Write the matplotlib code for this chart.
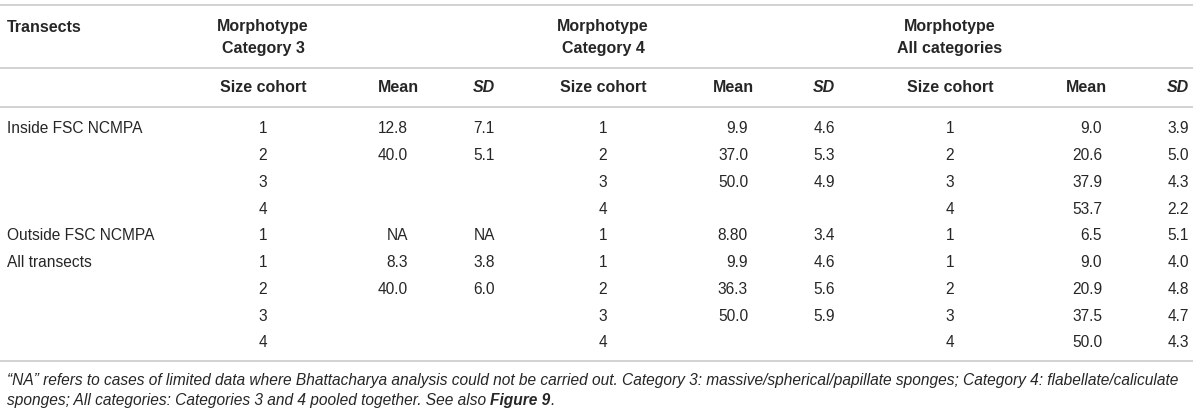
import matplotlib
matplotlib.use("Agg")
import matplotlib.pyplot as plt

# table contents
transects = ["Inside FSC NCMPA", "", "", "", "Outside FSC NCMPA", "All transects", "", "", ""]
cohort = ["1", "2", "3", "4", "1", "1", "2", "3", "4"]
cat3_mean = ["12.8", "40.0", "", "", "NA", "8.3", "40.0", "", ""]
cat3_sd = ["7.1", "5.1", "", "", "NA", "3.8", "6.0", "", ""]
cat4_mean = ["9.9", "37.0", "50.0", "", "8.80", "9.9", "36.3", "50.0", ""]
cat4_sd = ["4.6", "5.3", "4.9", "", "3.4", "4.6", "5.6", "5.9", ""]
all_mean = ["9.0", "20.6", "37.9", "53.7", "6.5", "9.0", "20.9", "37.5", "50.0"]
all_sd = ["3.9", "5.0", "4.3", "2.2", "5.1", "4.0", "4.8", "4.7", "4.3"]

groups = ["Morphotype\nCategory 3", "Morphotype\nCategory 4", "Morphotype\nAll categories"]
subheads = ["Size cohort", "Mean", "SD"]
footnote1 = ("\u201cNA\u201d refers to cases of limited data where Bhattacharya analysis could not be "
             "carried out. Category 3: massive/spherical/papillate sponges; Category 4: flabellate/caliculate")
footnote2 = "sponges; All categories: Categories 3 and 4 pooled together. See also "

plt.rcParams["font.family"] = ["Liberation Sans", "DejaVu Sans"]
txt = "#262626"
rule = "#cfcfcf"
fs = 11.2
fsb = 11.5

fig = plt.figure(figsize=(12, 4.14), dpi=100)
ax = fig.add_axes([0, 0, 1, 1])
ax.set_xlim(0, 1200)
ax.set_ylim(414, 0)
ax.axis("off")

# horizontal rules
for y in [6, 69, 108, 362]:
    ax.plot([0, 1193], [y, y], color=rule, lw=1.3, solid_capstyle="butt")

# header
ax.text(7, 27, "Transects", fontsize=fsb, fontweight="bold", color=txt, va="center", ha="left")
coh_x = [263, 603, 950]
mean_x = [408, 748, 1102]
mean_hx = [398, 733, 1086]
sd_x = [495, 835, 1189]
for g, cx in zip(groups, coh_x):
    a, b = g.split("\n")
    ax.text(cx, 27, a, fontsize=fsb, fontweight="bold", color=txt, va="center", ha="center")
    ax.text(cx, 49, b, fontsize=fsb, fontweight="bold", color=txt, va="center", ha="center")
for i in range(3):
    ax.text(coh_x[i], 88, subheads[0], fontsize=fsb, fontweight="bold", color=txt, va="center", ha="center")
    ax.text(mean_hx[i], 88, subheads[1], fontsize=fsb, fontweight="bold", color=txt, va="center", ha="center")
    ax.text(sd_x[i], 88, subheads[2], fontsize=fsb, fontweight="bold", fontstyle="italic",
            color=txt, va="center", ha="right")

# body
row_y = [129 + 26.75 * k for k in range(len(cohort))]
means = [cat3_mean, cat4_mean, all_mean]
sds = [cat3_sd, cat4_sd, all_sd]
for k, y in enumerate(row_y):
    ax.text(7, y, transects[k], fontsize=fs, color=txt, va="center", ha="left")
    for i in range(3):
        ax.text(coh_x[i], y, cohort[k], fontsize=fs, color=txt, va="center", ha="center")
        ax.text(mean_x[i], y, means[i][k], fontsize=fs, color=txt, va="center", ha="right")
        ax.text(sd_x[i], y, sds[i][k], fontsize=fs, color=txt, va="center", ha="right")

# footnote, scaled to span the table width
r = fig.canvas.get_renderer()
t1 = ax.text(7, 381, footnote1, fontsize=11, fontstyle="italic", color=txt, va="center", ha="left")
w = t1.get_window_extent(renderer=r).width
fs2 = 11 * 1176 / w
t1.set_fontsize(fs2)
t2 = ax.text(7, 401, footnote2, fontsize=fs2, fontstyle="italic", color=txt, va="center", ha="left")
x_end = ax.transData.inverted().transform((t2.get_window_extent(renderer=r).x1, 0))[0]
t3 = ax.text(x_end, 401, "Figure 9", fontsize=fs2, fontstyle="italic", fontweight="bold",
             color=txt, va="center", ha="left")
x_end = ax.transData.inverted().transform((t3.get_window_extent(renderer=r).x1, 0))[0]
ax.text(x_end, 401, ".", fontsize=fs2, fontstyle="italic", color=txt, va="center", ha="left")

fig.savefig("out.png", dpi=100, facecolor="white")
